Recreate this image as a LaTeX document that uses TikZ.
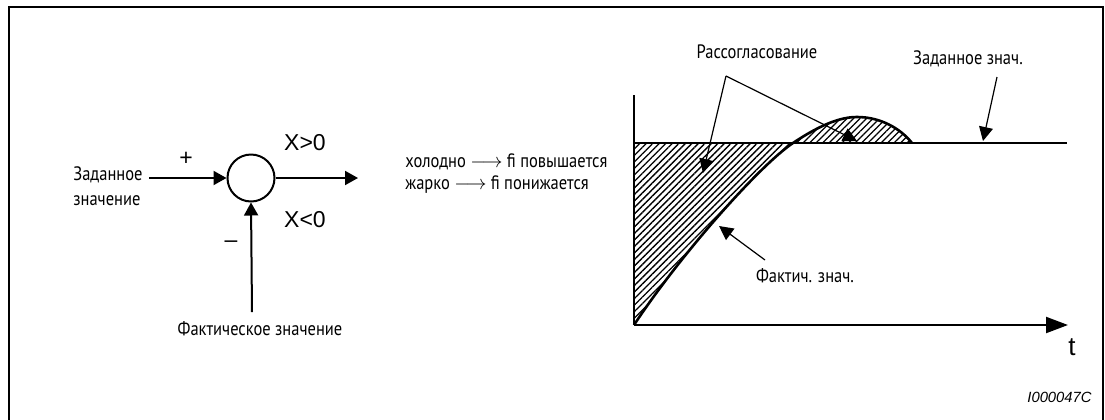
\documentclass[tikz,border=0pt]{standalone}
\usepackage{fontspec}
\setmainfont{PT Sans}[FakeStretch=0.85]
\newfontfamily\arialfont{Liberation Sans}
\usetikzlibrary{arrows.meta,patterns.meta}

\begin{document}
\begin{tikzpicture}[x=0.5pt, y=-0.5pt, >={Triangle[length=6.5pt,width=7pt]},
  lbl/.style={font=\fontsize{9.7}{12.5}\selectfont, inner sep=0pt, align=left},
  sym/.style={font=\arialfont\fontsize{11.5}{13}\selectfont, inner sep=0pt},
  sig/.style={line width=1pt},
  ann/.style={line width=0.6pt, -{Triangle[length=7pt,width=7pt]}},
  hatch/.style={pattern={Lines[angle=45,distance=2.3pt,line width=0.65pt]}}]

  \useasboundingbox (0,0) rectangle (1105,419);
  % frame (open at the bottom)
  \draw[line width=1pt] (9,430) |- (1103,6.5) -- (1103,430);

  % Summing point
  \node[draw, circle, line width=1pt, minimum size=23.5pt, inner sep=0pt] (sum) at (251,178) {};
  \coordinate (in) at (149,178);
  \coordinate (out) at (358,178);
  \coordinate (fb) at (252,312);
  \draw[sig, ->] (in) -- (sum.west);
  \draw[sig, ->] (sum.east) -- (out);
  \draw[sig, ->] (fb) -- (sum.south);

  \node[lbl, anchor=east] (sp) at (143,186) {Заданное\\значение};
  \node[sym] (plus) at (186,159) {+};
  \node[sym] (minus) at (231,244) {–};
  \node[sym] (xpos) at (305,143) {X>0};
  \node[sym] (xneg) at (305,220) {X<0};
  \node[lbl] (pv) at (260,329) {Фактическое значение};

  % Rule text
  \node[lbl, anchor=west, font=\fontsize{9.7}{11}\selectfont] (rule) at (405,174)
    {холодно $\longrightarrow$ fi повышается\\жарко $\longrightarrow$ fi понижается};

  % Time response
  \coordinate (o) at (634,325);
  \coordinate (ytop) at (634,95);
  \coordinate (tend) at (1068,325);
  \coordinate (cross) at (793,143);
  \coordinate (back) at (912,143);
  \coordinate (send) at (1067,143);

  \fill[hatch] (o) .. controls (680,255) and (760,165) .. (cross) -- (634,143) -- cycle;
  \fill[hatch] (cross) .. controls (820,125) and (840,117) .. (857,117)
    .. controls (880,117) and (900,128) .. (back) -- cycle;

  \draw[line width=0.7pt] (o) -- (ytop);
  \draw[line width=1.1pt, -{Triangle[length=11pt,width=8pt]}] (o) -- (tend);
  \node[sym, font=\arialfont\fontsize{13}{15}\selectfont] (t) at (1072,347) {t};

  \draw[line width=1.1pt] (634,143) -- (send);
  \draw[line width=1.3pt] (o) .. controls (680,255) and (760,165) .. (cross)
    .. controls (820,125) and (840,117) .. (857,117)
    .. controls (880,117) and (900,128) .. (back);

  % Annotations
  \node[lbl] (err) at (757,52) {Рассогласование};
  \coordinate (fork) at (726,76);
  \coordinate (errA) at (703,173);
  \coordinate (errB) at (857,141);
  \draw[ann] (fork) -- (errA);
  \draw[ann] (fork) -- (errB);

  \node[lbl] (spv) at (968,59) {Заданное знач.};
  \coordinate (spvs) at (997,77);
  \coordinate (spvt) at (983,141);
  \draw[ann] (spvs) -- (spvt);

  \node[lbl] (act) at (805,276) {Фактич. знач.};
  \coordinate (acts) at (765,260);
  \coordinate (actt) at (719,226);
  \draw[ann] (acts) -- (actt);

  \node[font=\arialfont\itshape\fontsize{7.4}{9}\selectfont, anchor=east, inner sep=0pt] (id) at (1092,397) {I000047C};

\end{tikzpicture}
\end{document}
